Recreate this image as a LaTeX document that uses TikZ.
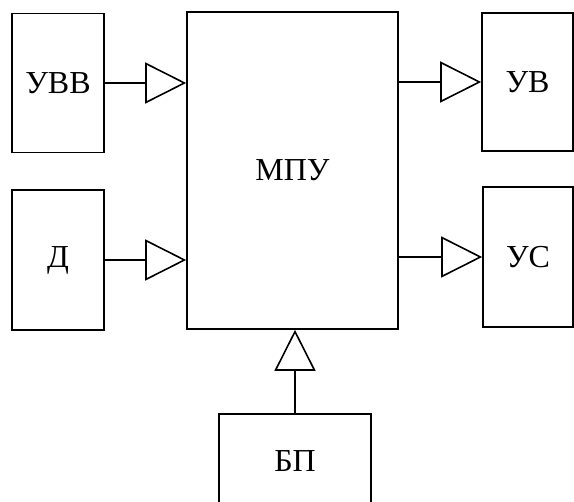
\documentclass[tikz,border=0pt]{standalone}
\usepackage{fontspec}
\setmainfont{Liberation Serif}
\usetikzlibrary{positioning,calc,arrows.meta}

\begin{document}
\begin{tikzpicture}
		[x=1pt, y=-1pt,
		blk/.style={draw, line width=1.6pt, inner sep=0pt, font=\fontsize{32}{36}\selectfont},
		sig/.style={line width=1.6pt, -{Triangle[open, length=41pt, width=41pt]}}]
		\clip (0,0) rectangle (574,502);
		\node[blk, minimum width=92pt, minimum height=139pt] (UVV) at (58,83) {УВВ};
		\node[blk, minimum width=92pt, minimum height=140pt] (D) at (58,260) {Д};
		\node[blk, minimum width=211pt, minimum height=317pt] (MPU) at (292.5,170.5) {МПУ};
		\node[blk, minimum width=91pt, minimum height=138pt] (UV) at (527.5,82) {УВ};
		\node[blk, minimum width=90pt, minimum height=140pt] (US) at (528,257) {УС};
		\node[blk, minimum width=152pt, minimum height=94pt] (BP) at (295,461) {БП};

		\draw[sig] (UVV.east) -- (UVV.east -| MPU.west);
		\draw[sig] (D.east) -- (D.east -| MPU.west);
		\draw[sig] (UV.west -| MPU.east) -- (UV.west);
		\draw[sig] (US.west -| MPU.east) -- (US.west);
		\draw[sig] (BP.north) -- (BP.north |- MPU.south);
	\end{tikzpicture}
\end{document}
